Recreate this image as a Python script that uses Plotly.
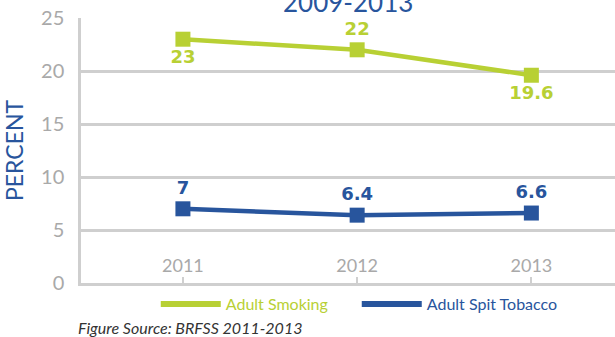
import plotly.graph_objects as go

years = ["2011", "2012", "2013"]
smoking = [23, 22, 19.6]
spit_tobacco = [7, 6.4, 6.6]
smoking_label_pos = ["bottom center", "top center", "bottom center"]
spit_label_pos = ["top center", "top center", "top center"]

GREEN = "#b8d034"
BLUE = "#28559d"
GRID = "#cfcfcf"
TICK = "#a9a9a9"


def fmt(v):
    return f"{v:g}"


fig = go.Figure()

fig.add_trace(go.Scatter(
    x=years, y=smoking, mode="lines+markers+text",
    line=dict(color=GREEN, width=4.5),
    marker=dict(symbol="square", size=15, color=GREEN),
    text=[fmt(v) for v in smoking], textposition=smoking_label_pos,
    textfont=dict(family="DejaVu Sans", size=18, color=GREEN, weight="bold"),
    showlegend=False, cliponaxis=False,
))
fig.add_trace(go.Scatter(
    x=years, y=spit_tobacco, mode="lines+markers+text",
    line=dict(color=BLUE, width=4.5),
    marker=dict(symbol="square", size=15, color=BLUE),
    text=[fmt(v) for v in spit_tobacco], textposition=spit_label_pos,
    textfont=dict(family="DejaVu Sans", size=18, color=BLUE, weight="bold"),
    showlegend=False, cliponaxis=False,
))

# legend entries: plain thick line swatches with coloured names
fig.add_trace(go.Scatter(
    x=[None], y=[None], mode="lines", line=dict(color=GREEN, width=6),
    name=f'<span style="color:{GREEN}">Adult Smoking</span>',
))
fig.add_trace(go.Scatter(
    x=[None], y=[None], mode="lines", line=dict(color=BLUE, width=6),
    name=f'<span style="color:{BLUE}">Adult Spit Tobacco</span>',
))

fig.update_layout(
    width=615, height=337,
    margin=dict(l=81, r=0, t=18, b=54),
    paper_bgcolor="white", plot_bgcolor="white",
    font=dict(family="Lato", color=TICK),
    legend=dict(
        orientation="h", x=0.14, y=-0.015, xanchor="left", yanchor="top",
        font=dict(family="Lato", size=16), itemwidth=60,
        entrywidth=126, entrywidthmode="pixels",
        bgcolor="rgba(0,0,0,0)",
    ),
    xaxis=dict(
        type="category", range=[-0.585, 2.48],
        showline=True, linecolor=GRID, linewidth=3,
        ticks="inside", ticklen=6, tickwidth=2, tickcolor=GRID,
        ticklabelposition="outside", ticklabelstandoff=-36,
        tickfont=dict(family="Lato", size=18, color=TICK),
        showgrid=False, fixedrange=True, automargin=False,
    ),
    yaxis=dict(
        range=[0, 25], tickvals=[0, 5, 10, 15, 20, 25],
        showline=True, linecolor=GRID, linewidth=2.5,
        showgrid=True, gridcolor=GRID, gridwidth=2.5,
        zeroline=False, ticks="", ticklabelstandoff=10,
        tickfont=dict(family="Lato", size=20, color=TICK),
        title=dict(text="PERCENT", font=dict(family="Lato", size=23, color=BLUE), standoff=12),
    ),
    annotations=[
        dict(text="2009-2013", xref="paper", yref="paper", x=0.5, y=1,
             xanchor="center", yanchor="bottom", yshift=-2, showarrow=False,
             font=dict(family="Lato", size=26, color=BLUE)),
        dict(text="<i>Figure Source: BRFSS 2011-2013</i>", xref="paper", yref="paper",
             x=0, y=0, xanchor="left", yanchor="middle", xshift=-5, yshift=-44,
             showarrow=False, font=dict(family="Lato", size=16, color="#333333")),
    ],
)

fig.write_html("out.html")
